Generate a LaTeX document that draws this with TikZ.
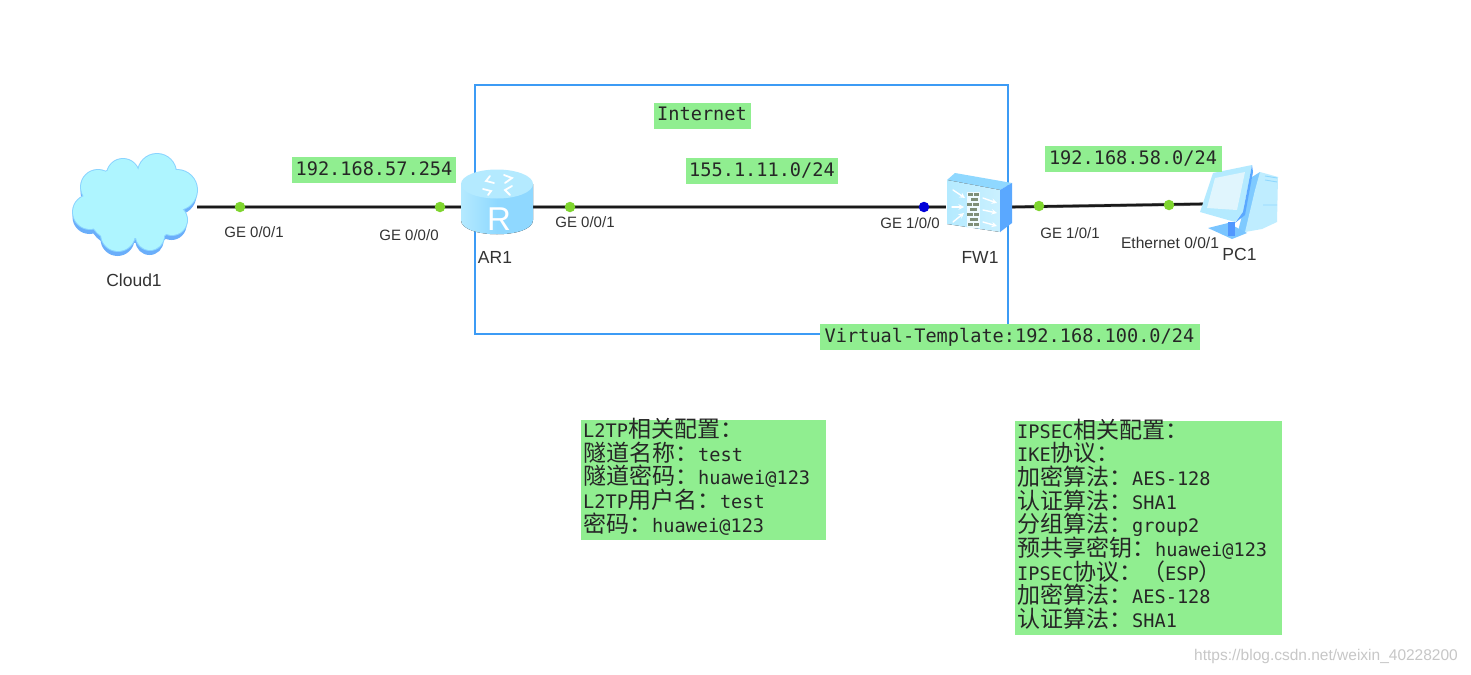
\documentclass[tikz,border=0pt]{standalone}
\usepackage{fontspec}
\setmainfont{Liberation Sans}
\newfontfamily\monof{DejaVu Sans Mono}
\newfontfamily\cjkf{Noto Sans CJK SC}
\definecolor{lab}{HTML}{90EE90}
\definecolor{frameblue}{HTML}{3C9BF5}
\definecolor{cloudtop}{HTML}{AEF5FF}
\definecolor{cloudedge}{HTML}{8AD4FF}
\definecolor{cloudlow}{HTML}{6AAEFA}
\definecolor{dotgreen}{HTML}{7FD52F}
\definecolor{icolight}{HTML}{B4EAFF}
\definecolor{icomid}{HTML}{8FD8FF}
\definecolor{icodark}{HTML}{5AA8FF}
\definecolor{brick}{HTML}{7F8F78}
\tikzset{
  x=1pt,y=-1pt,
  tag/.style={fill=lab,inner sep=0pt,font=\monof\fontsize{18.6}{22}\selectfont,text=black!85,anchor=center,text height=14pt,text depth=4pt},
  panel/.style={fill=lab,inner xsep=2pt,inner ysep=-2pt,anchor=north west,align=left,text=black!85,font=\monof\fontsize{18.6}{23.7}\selectfont},
  devlabel/.style={font=\fontsize{17.5}{19}\selectfont,text=black!80},
  portlabel/.style={font=\fontsize{15}{17}\selectfont,text=black!80},
  device/.style={inner sep=0pt,minimum height=60pt},
  port/.style={circle,fill=dotgreen,inner sep=0pt,minimum size=10.5pt},
  portblue/.style={circle,fill=blue!85!black,inner sep=0pt,minimum size=10.5pt},
  linkunder/.style={draw=black!40,line width=4pt},
  linktop/.style={draw=black!90,line width=2.6pt},
  arrowwhite/.style={draw=white,line width=1.4pt,line cap=round},
  arrowtip/.style={arrowwhite,-stealth},
}
\newcommand{\zh}[1]{{\cjkf\fontsize{23}{23.7}\selectfont #1}}
\newcommand{\lift}{\rule[-10pt]{0pt}{0pt}}
\newcommand{\cloudshape}[1]{(90,212) circle (#1+17) (98,187) circle (#1+17) (123,175) circle (#1+16) (157,173) circle (#1+19) (177,190) circle (#1+20) (172,220) circle (#1+15) (150,236) circle (#1+14) (118,234) circle (#1+17) (137,205) circle (#1+33) (105,205) circle (#1+20) (115,215) circle (#1+25) (150,215) circle (#1+25) (160,192) circle (#1+27) (118,190) circle (#1+22)}
\begin{document}
\begin{tikzpicture}
\useasboundingbox[fill=white] (0,0) rectangle (1471,674);
% frame
\draw[frameblue,line width=1.1pt] (475,85) rectangle (1008,334);
% device anchors
\node[device,minimum width=125pt] (cloud) at (134.5,207) {};
\node[device,minimum width=72pt] (ar) at (497,207) {};
\node[device,minimum width=66pt] (fw) at (979,207) {};
\node[device,minimum width=74pt] (pc) at (1240,204) {};
% links
\path[linkunder] (cloud.east) -- (ar.west);
\path[linktop] (cloud.east) -- (ar.west);
\path[linkunder] (ar.east) -- (fw.west);
\path[linktop] (ar.east) -- (fw.west);
\path[linkunder,draw=black!30,line width=3.4pt] (fw.east) -- (pc.west);
\path[linktop] (fw.east) -- (pc.west);
% cloud
\fill[cloudlow,shift={(-0.5,5)}] \cloudshape{0};
\fill[cloudedge] \cloudshape{1};
\fill[cloudtop] \cloudshape{0};
% router
\fill[left color=icolight,right color=icomid,middle color=icomid] (461,184) -- (461,220) .. controls (461,239) and (533,239) .. (533,220) -- (533,184) -- cycle;
\fill[icolight] (497,184) ellipse[x radius=36,y radius=14.5];
\draw[arrowwhite,line width=1.8pt] (490,176) -- (486,181) -- (494,183) (504,175) -- (512,178) -- (505,183) (483,189) -- (491,191) -- (488,195) (512,186) -- (505,190) -- (510,195);
\node[text=white,inner sep=0pt,font=\fontsize{33}{33}\selectfont] (rletter) at (499,219) {R};
% firewall
\fill[icomid] (947,180) -- (955,173) -- (1012,183) -- (1000,190) -- cycle;
\fill[left color=icolight,right color=icolight!70!white] (947,180) -- (1000,190) -- (1000,232) -- (947,224) -- cycle;
\fill[icodark] (1000,190) -- (1012,183) -- (1012,223) -- (1000,232) -- cycle;
\fill[white!80!icolight] (966.5,192) rectangle (980,228);
\foreach \yy/\xa/\xb in {193/968/973,193/974/979,198/971/978,203/967/972,203/973/979,208/970/977,213/967/973,213/974/979,218/970/978,223/968/973,223/974/979}
  \fill[brick] (\xa,\yy) rectangle (\xb,\yy+3.4);
\draw[arrowtip] (953,190) -- (965,198);
\draw[arrowtip] (952,207) -- (964,207);
\draw[arrowtip] (953,222) -- (964,213);
\draw[arrowtip] (983,198) -- (997,203);
\draw[arrowtip] (983,210) -- (997,213);
\draw[arrowtip] (983,222) -- (997,226);
% PC
\fill[icomid!70!icodark] (1252,177) -- (1260,172) -- (1268,222) -- (1237,235) -- cycle;
\fill[icolight!85!white] (1260,172) -- (1278,177) -- (1277,222) -- (1262,229) -- (1245,232) -- (1255,190) -- cycle;
\draw[icomid,line width=.9pt] (1265,176) -- (1277,178) (1265,180) -- (1277,182) (1263,205) -- (1277,205);
\fill[icomid!60!icodark] (1208,228) -- (1228,223) -- (1247,233) -- (1232,239) -- cycle;
\fill[icodark!90!blue] (1228,222) rectangle (1235,236);
\fill[icolight] (1213,173) -- (1252,165) -- (1243,212) -- (1235,222) -- (1200,212) -- cycle;
\fill[icodark] (1252,165) -- (1253,172) -- (1245,215) -- (1235,223) -- (1243,212) -- cycle;
\fill[cyan!12!white] (1215,178) -- (1245,172) -- (1237,210) -- (1207,208) -- cycle;
% ports
\node[port] (p1) at (240,207) {};
\node[port] (p2) at (440,207) {};
\node[port] (p3) at (570,207) {};
\node[portblue] (p4) at (924,207) {};
\node[port] (p5) at (1039,206) {};
\node[port] (p6) at (1169,205) {};
% device labels
\node[devlabel] (lc) at (134,280) {Cloud1};
\node[devlabel] (la) at (495,257) {AR1};
\node[devlabel] (lf) at (980,257) {FW1};
\node[devlabel] (lp) at (1239.5,254) {PC1};
% port labels
\node[portlabel] (t1) at (254,232) {GE 0/0/1};
\node[portlabel] (t2) at (409,235) {GE 0/0/0};
\node[portlabel] (t3) at (585,222) {GE 0/0/1};
\node[portlabel] (t4) at (910,223) {GE 1/0/0};
\node[portlabel] (t5) at (1070,233) {GE 1/0/1};
\node[portlabel,font=\fontsize{15.6}{17}\selectfont] (t6) at (1170,243) {Ethernet 0/0/1};
% tags
\node[tag,minimum width=164pt,minimum height=26pt] (n1) at (374,170) {192.168.57.254};
\node[tag,minimum width=97pt,minimum height=26pt] (n2) at (702,116) {Internet};
\node[tag,minimum width=152pt,minimum height=26pt] (n3) at (762,171) {155.1.11.0/24};
\node[tag,minimum width=177pt,minimum height=26pt] (n4) at (1133,159) {192.168.58.0/24};
\node[tag,minimum width=380pt,minimum height=26pt] (n5) at (1009.5,337) {Virtual-Template:192.168.100.0/24};
% panels
\node[panel,text width=241pt,minimum height=120pt] (l2tp) at (581,420) {%
L2TP\zh{相关配置：}\\
\zh{隧道名称：}test\\
\zh{隧道密码：}huawei@123\\
L2TP\zh{用户名：}test\\
\zh{密码：}huawei@123\lift};
\node[panel,inner ysep=-2.6pt,text width=263pt,minimum height=214pt] (ipsec) at (1015,421) {%
IPSEC\zh{相关配置：}\\
IKE\zh{协议：}\\
\zh{加密算法：}AES-128\\
\zh{认证算法：}SHA1\\
\zh{分组算法：}group2\\
\zh{预共享密钥：}huawei@123\\
IPSEC\zh{协议：（}ESP\zh{）}\\
\zh{加密算法：}AES-128\\
\zh{认证算法：}SHA1\lift};
% watermark
\node[text=black!22,font=\fontsize{15.5}{17}\selectfont,inner sep=0pt] (wm) at (1326,656) {https://blog.csdn.net/weixin\_40228200};
\end{tikzpicture}
\end{document}
